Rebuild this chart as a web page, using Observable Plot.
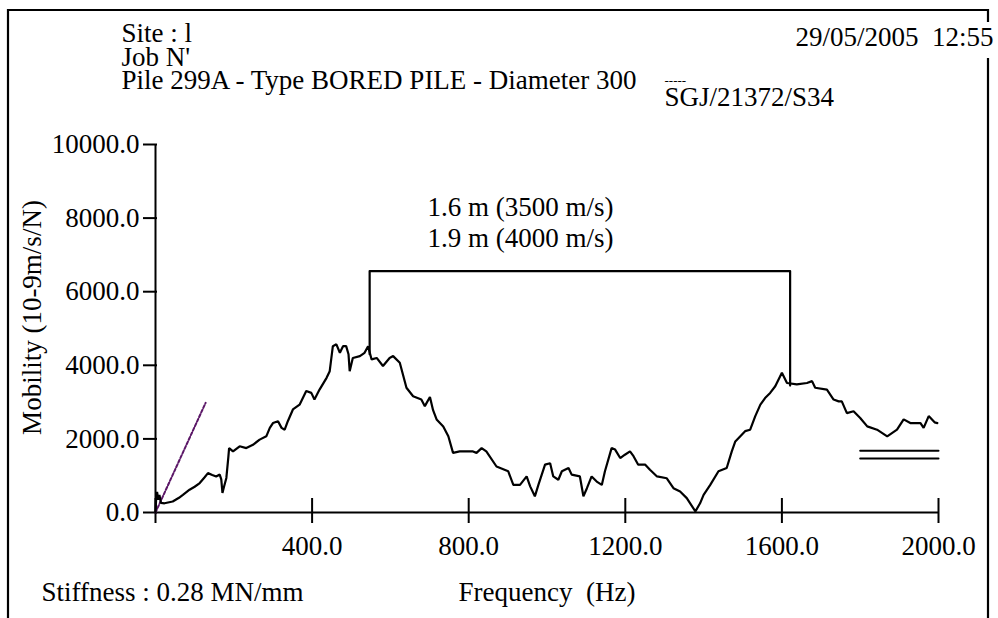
<!DOCTYPE html>
<html><head><meta charset="utf-8">
<script src="https://cdn.jsdelivr.net/npm/d3@7"></script>
<script src="https://cdn.jsdelivr.net/npm/@observablehq/plot@0.6"></script>
<style>html,body{margin:0;padding:0;background:#fff;overflow:hidden}</style>
</head><body><div id="chart"></div>
<script>
// ---- data ----
const frequencyHz = [0,2,4,7,10,14,23,44,60,70,87,100,113,125,134,145,155,164,168,171,175,181,186,188,198,215,232,249,266,283,292,300,313,322,330,338,351,368,385,398,406,419,437,445,453,462,471,479,487,493,496,504,522,534,543,552,565,581,598,607,624,641,658,679,688,701,709,718,735,748,760,777,811,820,833,845,871,901,914,931,948,957,969,978,995,1008,1016,1029,1038,1055,1063,1084,1093,1102,1114,1127,1140,1148,1165,1174,1187,1199,1212,1221,1233,1251,1263,1281,1306,1323,1340,1357,1379,1391,1400,1417,1438,1459,1472,1481,1506,1519,1532,1545,1557,1570,1583,1600,1613,1638,1664,1677,1685,1715,1732,1745,1753,1766,1783,1800,1818,1843,1869,1894,1911,1928,1954,1962,1975,1990,1997];
const mobility = [0,450,560,350,480,260,250,300,400,480,620,700,800,950,1070,1020,980,1030,900,530,700,940,1500,1750,1660,1800,1750,1840,1980,2070,2300,2430,2480,2300,2250,2480,2800,2930,3300,3250,3070,3340,3660,3840,4520,4570,4340,4520,4520,4300,3840,4200,4250,4340,4520,4160,4200,3980,4200,4250,4070,3390,3160,3070,2890,3140,2780,2530,2340,2070,1620,1660,1660,1620,1750,1660,1250,1120,750,750,980,710,440,750,1300,1340,980,890,1120,1210,1030,980,440,660,980,840,750,1120,1750,1710,1480,1570,1660,1530,1300,1300,1160,980,930,660,570,390,30,250,480,750,1120,1210,1660,1930,2210,2250,2620,2930,3110,3250,3430,3800,3520,3480,3520,3570,3390,3340,3070,3020,3020,2700,2750,2570,2340,2250,2070,2250,2530,2430,2430,2300,2620,2450,2430];
const stiffnessHz = [0, 128];
const stiffnessMobility = [0, 2980];
const bracketHz = [547, 547, 1621, 1621];
const bracketMobility = [4300, 6560, 6560, 3450];
const resultLines = ["1.6 m (3500 m/s)", "1.9 m (4000 m/s)"];
const refLevels = [1680, 1470];
const refRangeHz = [1800, 2000];
const xTickValues = [0, 400, 800, 1200, 1600, 2000];
const xLabelValues = [400, 800, 1200, 1600, 2000];
const yTickValues = [0, 2000, 4000, 6000, 8000, 10000];
const headerLines = ["Site : l", "Job N'", "Pile 299A - Type BORED PILE - Diameter 300"];
const reference = "SGJ/21372/S34";
const stamp = "29/05/2005\u00a0 12:55";
const yTitle = "Mobility (10-9m/s/N)";
const xTitle = "Frequency\u00a0 (Hz)";
const stiffnessText = "Stiffness : 0.28 MN/mm";

// ---- layout ----
const W = 998, H = 618, ML = 155, MR = 60, MT = 144, MB = 106;
const FONT = "'Liberation Serif','Times New Roman',serif";
const at = (px, py) => ({frameAnchor: "top-left", dx: px - ML, dy: py - MT});

const curve = frequencyHz.map((f, i) => ({f, v: mobility[i]}));
const stiff = stiffnessHz.map((f, i) => ({f, v: stiffnessMobility[i]}));
const bracket = bracketHz.map((f, i) => ({f, v: bracketMobility[i]}));
const refs = refLevels.flatMap((v, k) => refRangeHz.map(f => ({f, v, k})));

const plot = Plot.plot({
  width: W, height: H,
  marginLeft: ML, marginRight: MR, marginTop: MT, marginBottom: MB,
  style: {fontFamily: FONT, fontSize: "27px", color: "black", background: "white"},
  x: {domain: [0, 2000], ticks: xLabelValues, tickSize: 0, tickPadding: 23, tickFormat: d => d.toFixed(1), label: null},
  y: {domain: [0, 10000], ticks: yTickValues, tickSize: 0, tickPadding: 16, tickFormat: d => d.toFixed(1), label: null},
  marks: [
    Plot.ruleY([0], {stroke: "black", strokeWidth: 2}),
    Plot.ruleX([0], {stroke: "black", strokeWidth: 2}),
    Plot.ruleX(xTickValues, {x: d => d, y1: 0, y2: 0, insetTop: -14, insetBottom: -11, stroke: "black", strokeWidth: 2}),
    Plot.ruleY(yTickValues, {y: d => d, x1: 0, x2: 0, insetLeft: -12, insetRight: -2, stroke: "black", strokeWidth: 2}),
    Plot.line(refs, {x: "f", y: "v", z: "k", stroke: "black", strokeWidth: 2}),
    Plot.line(stiff, {x: "f", y: "v", stroke: "#5b1767", strokeWidth: 2, strokeDasharray: "3,2"}),
    Plot.line(curve, {x: "f", y: "v", stroke: "black", strokeWidth: 2.2, strokeLinejoin: "miter"}),
    Plot.line(bracket, {x: "f", y: "v", stroke: "black", strokeWidth: 2.2}),
    Plot.text([resultLines[0]], {text: d => d, ...at(427, 207), textAnchor: "start", lineAnchor: "middle", fill: "black"}),
    Plot.text([resultLines[1]], {text: d => d, ...at(427, 238), textAnchor: "start", lineAnchor: "middle", fill: "black"}),
    Plot.text([headerLines[0]], {text: d => d, ...at(121, 33), textAnchor: "start", lineAnchor: "middle", fill: "black"}),
    Plot.text([headerLines[1]], {text: d => d, ...at(121, 57), textAnchor: "start", lineAnchor: "middle", fill: "black"}),
    Plot.text([headerLines[2]], {text: d => d, ...at(121, 80), textAnchor: "start", lineAnchor: "middle", fill: "black"}),
    Plot.text(["-----"], {text: d => d, ...at(664, 80), textAnchor: "start", lineAnchor: "middle", fontSize: 13, fill: "black"}),
    Plot.text([reference], {text: d => d, ...at(664, 97), textAnchor: "start", lineAnchor: "middle", fill: "black"}),
    Plot.text([stamp], {text: d => d, ...at(993, 37), textAnchor: "end", lineAnchor: "middle", fill: "black"}),
    Plot.text([yTitle], {text: d => d, ...at(32, 317), rotate: -90, textAnchor: "middle", lineAnchor: "middle", fill: "black"}),
    Plot.text([stiffnessText], {text: d => d, ...at(41, 592), textAnchor: "start", lineAnchor: "middle", fill: "black"}),
    Plot.text([xTitle], {text: d => d, ...at(458, 592), textAnchor: "start", lineAnchor: "middle", fill: "black"})
  ]
});
document.getElementById("chart").appendChild(plot);

// page border (decoration)
d3.select(plot).append("path")
  .attr("d", "M8,618V10H988V22M988,58V618")
  .attr("fill", "none").attr("stroke", "black").attr("stroke-width", 2.2);
</script>
</body></html>
